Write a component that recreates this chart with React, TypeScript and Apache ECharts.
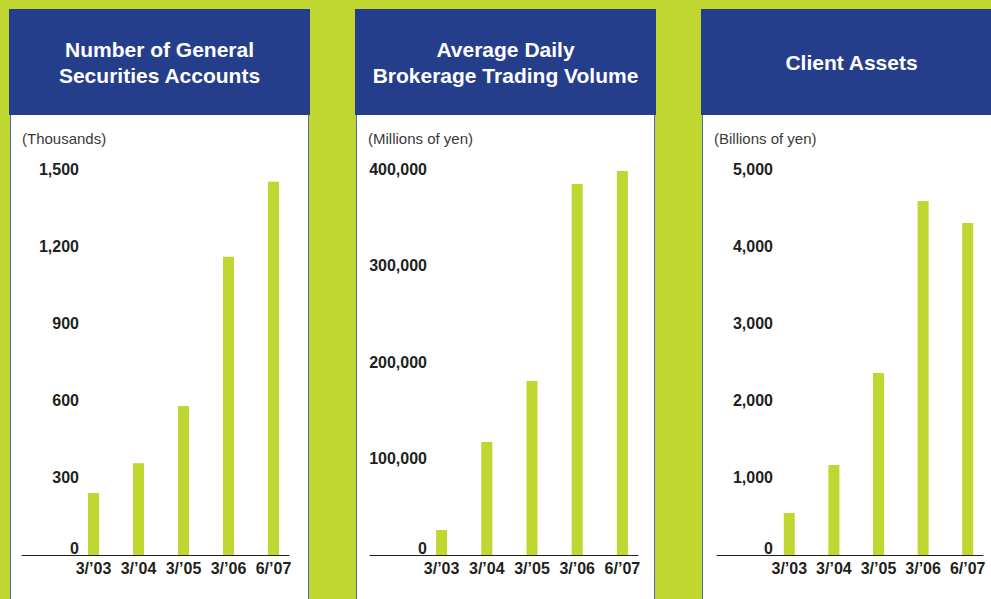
import React, { useEffect, useRef } from "react";
import * as echarts from "echarts";

// Fiscal period labels shared by all three panels
const categories = ["3/’03", "3/’04", "3/’05", "3/’06", "6/’07"];

// Number of general securities accounts (thousands)
const accounts = [241, 357, 579, 1159, 1450];
// Average daily brokerage trading volume (millions of yen)
const tradingVolume = [25900, 117100, 180300, 384500, 397900];
// Client assets (billions of yen)
const clientAssets = [544, 1166, 2358, 4585, 4301];

const titles = [
  "Number of General\nSecurities Accounts",
  "Average Daily\nBrokerage Trading Volume",
  "Client Assets",
];
const units = ["(Thousands)", "(Millions of yen)", "(Billions of yen)"];
const axisMax = [1500, 400000, 5000];
const axisStep = [300, 100000, 1000];

const LIME = "#bfd730";
const BLUE = "#253e8c";
const INK = "#231f20";
const FONT = '"Liberation Sans", Arial, Helvetica, sans-serif';

// Panel geometry in page pixels
const layout = [
  { header: [9, 310], axis: [22, 289], bars: [71, 296], labelRight: 79, unitX: 22 },
  { header: [355, 656], axis: [370, 638], bars: [419, 645], labelRight: 427, unitX: 368 },
  { header: [701, 1002], axis: [717, 983], bars: [767, 990], labelRight: 773, unitX: 714 },
];

const W = 991;
const H = 599;
const PLOT_TOP = 169;
const PLOT_BOTTOM = 555;

const fmt = (v: number) => v.toLocaleString("en-US");

export default function App() {
  const ref = useRef<HTMLDivElement>(null);

  useEffect(() => {
    if (!ref.current) return;
    const chart = echarts.init(ref.current, undefined, { renderer: "svg" });
    const seriesData = [accounts, tradingVolume, clientAssets];

    const grids: any[] = [];
    const xAxes: any[] = [];
    const yAxes: any[] = [];
    const series: any[] = [];
    const graphics: any[] = [];

    layout.forEach((p, i) => {
      // Panel body and header
      graphics.push({
        type: "rect",
        z: -2,
        shape: { x: p.header[0] + 1.5, y: 110, width: p.header[1] - p.header[0] - 3, height: 520 },
        style: { fill: "#ffffff", stroke: "#5568ad", lineWidth: 1 },
      });
      graphics.push({
        type: "rect",
        z: -1,
        shape: { x: p.header[0], y: 9, width: p.header[1] - p.header[0], height: 106 },
        style: { fill: BLUE },
      });
      graphics.push({
        type: "text",
        z: 5,
        x: (p.header[0] + p.header[1]) / 2,
        y: 62,
        style: {
          text: titles[i],
          fill: "#ffffff",
          fontFamily: FONT,
          fontWeight: "bold",
          fontSize: 21,
          lineHeight: 26,
          align: "center",
          verticalAlign: "middle",
        },
      });
      graphics.push({
        type: "text",
        z: 5,
        x: p.unitX,
        y: 138.5,
        style: {
          text: units[i],
          fill: "#3a3a3a",
          fontFamily: FONT,
          fontSize: 15,
          align: "left",
          verticalAlign: "middle",
        },
      });

      // Bars grid
      const barGrid = i * 2;
      grids.push({
        left: p.bars[0],
        width: p.bars[1] - p.bars[0],
        top: PLOT_TOP,
        height: PLOT_BOTTOM - PLOT_TOP,
        containLabel: false,
      });
      xAxes.push({
        type: "category",
        gridIndex: barGrid,
        data: categories,
        z: 10,
        axisLine: { show: false },
        axisTick: { show: false },
        axisLabel: {
          color: INK,
          fontFamily: FONT,
          fontWeight: "bold",
          fontSize: 16,
          margin: 5,
          interval: 0,
        },
      });
      yAxes.push({
        type: "value",
        gridIndex: barGrid,
        min: 0,
        max: axisMax[i],
        interval: axisStep[i],
        z: 10,
        splitLine: { show: false },
        axisLine: { show: false },
        axisTick: { show: false },
        axisLabel: {
          inside: true,
          align: "right",
          margin: p.labelRight - p.bars[0],
          color: INK,
          fontFamily: FONT,
          fontWeight: "bold",
          fontSize: 16,
          formatter: (v: number) => (v === 0 ? "{z|0}" : fmt(v)),
          rich: {
            z: {
              color: INK,
              fontFamily: FONT,
              fontWeight: "bold",
              fontSize: 16,
              padding: [0, 0, 14, 0],
            },
          },
        },
      });
      series.push({
        type: "bar",
        xAxisIndex: barGrid,
        yAxisIndex: barGrid,
        data: seriesData[i],
        barWidth: 11,
        z: 10,
        itemStyle: { color: LIME },
      });

      // Baseline grid: carries only the horizontal axis line
      const lineGrid = i * 2 + 1;
      grids.push({
        left: p.axis[0],
        width: p.axis[1] - p.axis[0],
        top: PLOT_TOP,
        height: PLOT_BOTTOM - PLOT_TOP,
        containLabel: false,
      });
      xAxes.push({
        type: "value",
        gridIndex: lineGrid,
        min: 0,
        max: 1,
        z: 10,
        axisLine: { show: true, lineStyle: { color: INK, width: 1 } },
        axisTick: { show: false },
        axisLabel: { show: false },
        splitLine: { show: false },
      });
      yAxes.push({
        type: "value",
        gridIndex: lineGrid,
        min: 0,
        max: 1,
        show: false,
        splitLine: { show: false },
      });
    });

    chart.setOption({
      animation: false,
      backgroundColor: LIME,
      grid: grids,
      xAxis: xAxes,
      yAxis: yAxes,
      series,
      graphic: graphics,
    });

    return () => chart.dispose();
  }, []);

  return (
    <div
      ref={ref}
      style={{ position: "absolute", left: 0, top: 0, width: W, height: H }}
    />
  );
}
